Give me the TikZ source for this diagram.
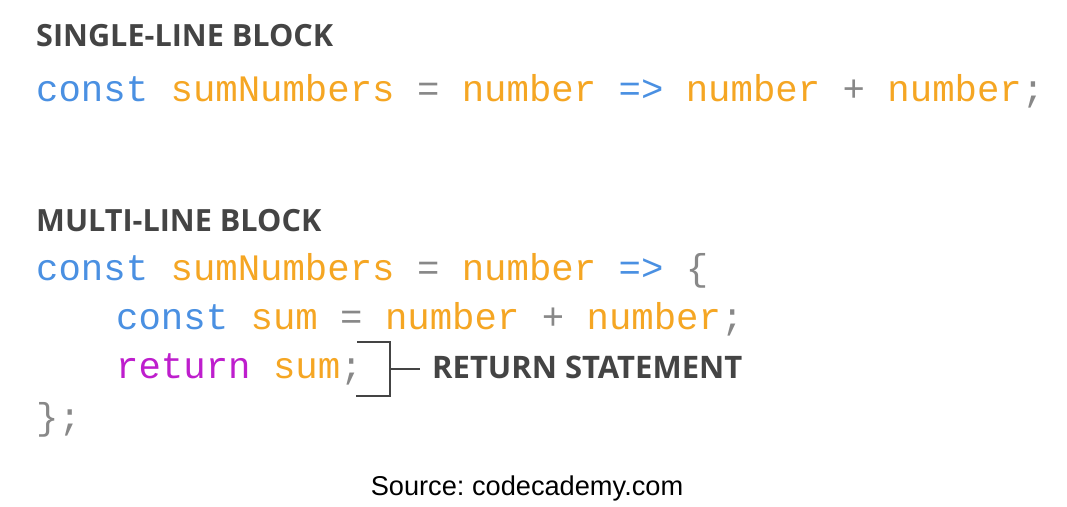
\documentclass[tikz,border=0pt]{standalone}
\usepackage{fontspec}
\usepackage{xcolor}
\usepackage{tikz}
\usetikzlibrary{calc}
\newfontfamily\codefont{Liberation Mono}
\newfontfamily\headfont{Open Sans}
\setmainfont{Liberation Sans}
\frenchspacing
\definecolor{kwblue}{RGB}{74,144,226}
\definecolor{idorange}{RGB}{245,166,35}
\definecolor{opgray}{RGB}{136,136,136}
\definecolor{retpurple}{RGB}{190,30,205}
\definecolor{headgray}{RGB}{68,68,68}
\newcommand{\kw}[1]{\textcolor{kwblue}{#1}}
\newcommand{\idf}[1]{\textcolor{idorange}{#1}}
\newcommand{\op}[1]{\textcolor{opgray}{#1}}

\begin{document}
\begin{tikzpicture}[x=1pt,y=1pt]
            \tikzstyle{every node}+=[inner sep=0pt,anchor=base west]
            \tikzstyle{heading}=[font=\headfont\bfseries\fontsize{30.6}{36}\selectfont,text=headgray]
            \tikzstyle{code}=[font=\codefont\fontsize{37.33}{44}\selectfont]
            \useasboundingbox [fill=white] (0,0) rectangle (1067,-506);
            \node [heading] (single) at (36,-46) {SINGLE-LINE BLOCK};
            \node [code] (line1) at (36,-101) {\kw{const} \idf{sumNumbers} \op{=} \idf{number} \kw{=>} \idf{number} \op{+} \idf{number}\op{;}};
            \node [heading] (multi) at (36,-231) {MULTI-LINE BLOCK};
            \node [code] (line2) at (36,-280) {\kw{const} \idf{sumNumbers} \op{=} \idf{number} \kw{=>} \op{\{}};
            \node [code] (line3) at (116,-329) {\kw{const} \idf{sum} \op{=} \idf{number} \op{+} \idf{number}\op{;}};
            \node [code] (line4) at (116,-378) {\textcolor{retpurple}{return} \idf{sum}\op{;}};
            \node [code] (line5) at (36,-429) {\op{\}}\op{;}};
            \node [font=\headfont\bfseries\fontsize{31}{37}\selectfont,text=headgray] (retlbl) at (432,-378) {RETURN STATEMENT};
            \coordinate (btop) at (357,-342);
            \coordinate (bbot) at (356,-396);
            \coordinate (bmid) at (390,-369);
            \coordinate (tick) at ($(retlbl.west |- bmid)+(-12,0)$);
            \draw [headgray,line width=2.4pt] (btop) -- (390,-342) -- (390,-396) -- (bbot);
            \draw [headgray,line width=2.4pt] (bmid) -- (tick);
            \node [anchor=base,font=\fontsize{27.2}{33}\selectfont] (src) at (527,-495) {Source: codecademy.com};
        \end{tikzpicture}
\end{document}
